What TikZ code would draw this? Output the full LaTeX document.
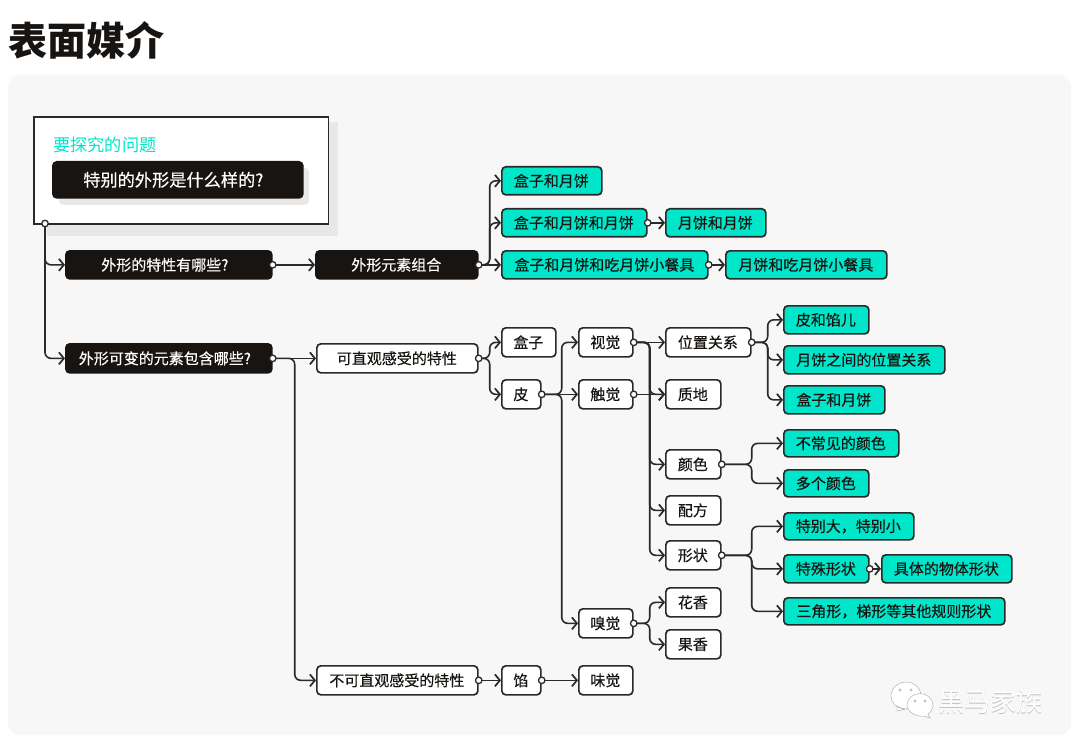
\documentclass[tikz,border=0pt]{standalone}
\usepackage{fontspec}
\setmainfont{Noto Sans CJK SC}
\newfontfamily\cjkm[FakeBold=0.4]{Noto Sans CJK SC}
\usetikzlibrary{arrows.meta}
\definecolor{ink}{HTML}{171411}
\definecolor{linec}{HTML}{2A2A2A}
\definecolor{teal}{HTML}{00E6CB}
\definecolor{panel}{HTML}{F7F7F7}
\definecolor{softshadow}{HTML}{E8E8E8}
\tikzset{
  basebox/.style={anchor=north west,inner sep=0pt,rounded corners=4pt,line width=1.7pt,draw=linec,
    font=\fontsize{15}{18}\selectfont\cjkm,align=center},
  darkbox/.style={basebox,fill=ink,draw=ink,text=white},
  whitebox/.style={basebox,fill=white,text=ink},
  tealbox/.style={basebox,fill=teal,text=ink},
  conn/.style={draw=linec,line width=1.6pt,rounded corners=6pt,-{Straight Barb[length=5pt,width=12pt,line width=1.7pt]}},
  joint/.style={circle,draw=linec,fill=white,line width=1.3pt,inner sep=0pt,minimum size=6.5pt},
}
% name, x0, y0, x1, y1, style, text
\newcommand\bx[7]{\node[#6,minimum width=(#4-#2-1)*1pt,minimum height=(#5-#3-1)*1pt] (#1) at (#2,#3) {\raisebox{0.5pt}{\hspace*{-1pt}#7}};}
\newcommand\dt[1]{\node[joint] at (#1) {};}
\newcommand\qshift[1]{\hspace*{-7pt}#1}
\begin{document}
\begin{tikzpicture}[x=1pt,y=-1pt]
\useasboundingbox (0,0) rectangle (1080,749);
\fill[white] (0,0) rectangle (1080,749);
\fill[panel,rounded corners=12pt] (8,75) rectangle (1071,735);
\node[anchor=west,inner sep=0pt,text=ink,font=\fontsize{39}{44}\selectfont\bfseries] (title) at (8,40) {表面媒介};

% question card
\fill[softshadow] (47,122) rectangle (338,236);
\node[anchor=north west,inner sep=0pt,fill=white,draw=linec,line width=1.7pt,minimum width=294.5pt,minimum height=107pt] (Q) at (33,116) {};
\node[anchor=west,inner sep=0pt,text=teal,font=\fontsize{17.2}{20}\selectfont] (qlabel) at (53,145) {要探究的问题};
\fill[softshadow,rounded corners=4pt] (59,168) rectangle (309,205);
\bx{q2}{52}{161}{303}{198}{darkbox,font=\fontsize{17.2}{20}\selectfont\cjkm}{\hspace*{-8pt}特别的外形是什么样的?}

% boxes
\bx{a1}{65}{250}{272}{279}{darkbox}{\qshift{外形的特性有哪些?}}
\bx{a2}{315}{250}{478}{279}{darkbox}{外形元素组合}
\bx{t1}{501}{166}{602}{195}{tealbox}{盒子和月饼}
\bx{t2}{501}{208}{647}{237}{tealbox}{盒子和月饼和月饼}
\bx{t2b}{665}{208}{766}{237}{tealbox}{月饼和月饼}
\bx{t3}{501}{250}{708}{279}{tealbox}{盒子和月饼和吃月饼小餐具}
\bx{t3b}{725}{250}{887}{279}{tealbox}{月饼和吃月饼小餐具}
\bx{b1}{65}{343}{272}{373}{darkbox}{\qshift{外形可变的元素包含哪些?}}
\bx{b2}{316}{343}{478}{373}{whitebox}{可直观感受的特性}
\bx{box}{501}{327}{556}{357}{whitebox}{盒子}
\bx{pi}{501}{379}{541}{409}{whitebox}{皮}
\bx{vis}{578}{327}{633}{357}{whitebox}{视觉}
\bx{tou}{578}{379}{633}{409}{whitebox}{触觉}
\bx{pos}{665}{327}{751}{357}{whitebox}{位置关系}
\bx{tex}{665}{379}{721}{409}{whitebox}{质地}
\bx{p1}{783}{305}{869}{334}{tealbox}{皮和馅儿}
\bx{p2}{783}{345}{945}{374}{tealbox}{月饼之间的位置关系}
\bx{p3}{783}{385}{885}{414}{tealbox}{盒子和月饼}
\bx{col}{665}{449}{721}{479}{whitebox}{颜色}
\bx{c1}{783}{429}{899}{457}{tealbox}{不常见的颜色}
\bx{c2}{783}{469}{869}{497}{tealbox}{多个颜色}
\bx{rec}{665}{495}{721}{525}{whitebox}{配方}
\bx{sha}{665}{540}{721}{570}{whitebox}{形状}
\bx{s1}{783}{512}{914}{540}{tealbox}{特别大，特别小}
\bx{s2}{783}{554}{869}{583}{tealbox}{特殊形状}
\bx{s2b}{881}{554}{1012}{583}{tealbox}{具体的物体形状}
\bx{s3}{783}{597}{1005}{625}{tealbox}{三角形，梯形等其他规则形状}
\bx{sme}{578}{608}{633}{638}{whitebox}{嗅觉}
\bx{f1}{665}{587}{721}{617}{whitebox}{花香}
\bx{f2}{665}{629}{721}{659}{whitebox}{果香}
\bx{b3}{316}{665}{478}{695}{whitebox}{不可直观感受的特性}
\bx{xian}{501}{665}{541}{695}{whitebox}{馅}
\bx{tas}{578}{665}{633}{695}{whitebox}{味觉}

% connectors
\coordinate (qo) at (45,223.5);
\draw[conn] (qo) |- (a1.west);
\draw[conn] (qo) |- (b1.west);
\draw[conn] (a1.east) -- (a2.west);
\draw[conn] (a2.east) -- ++(11,0) |- (t1.west);
\draw[conn] (a2.east) -- ++(11,0) |- (t2.west);
\draw[conn] (a2.east) -- (t3.west);
\draw[conn] (t2.east) -- (t2b.west);
\draw[conn] (t3.east) -- (t3b.west);
\draw[conn] (b1.east) -- (b2.west);
\draw[conn] (b1.east) -- ++(22,0) |- (b3.west);
\draw[conn] (b2.east) -- ++(11,0) |- (box.west);
\draw[conn] (b2.east) -- ++(11,0) |- (pi.west);
\draw[conn] (pi.east) -- ++(20,0) |- (vis.west);
\draw[conn] (pi.east) -- (tou.west);
\draw[conn] (pi.east) -- ++(20,0) |- (sme.west);
\draw[conn] (vis.east) -- (pos.west);
\draw[conn] (vis.east) -- ++(16,0) |- (tex.west);
\draw[conn] (vis.east) -- ++(16,0) |- (col.west);
\draw[conn] (vis.east) -- ++(16,0) |- (rec.west);
\draw[conn] (vis.east) -- ++(16,0) |- (sha.west);
\draw[conn] (tou.east) -- (tex.west);
\draw[conn] (pos.east) -- ++(16,0) |- (p1.west);
\draw[conn] (pos.east) -- ++(16,0) |- (p2.west);
\draw[conn] (pos.east) -- ++(16,0) |- (p3.west);
\draw[conn] (col.east) -- ++(30,0) |- (c1.west);
\draw[conn] (col.east) -- ++(30,0) |- (c2.west);
\draw[conn] (sha.east) -- ++(30,0) |- (s1.west);
\draw[conn] (sha.east) -- ++(30,0) |- (s2.west);
\draw[conn] (sha.east) -- ++(30,0) |- (s3.west);
\draw[conn] (s2.east) -- (s2b.west);
\draw[conn] (sme.east) -- ++(16,0) |- (f1.west);
\draw[conn] (sme.east) -- ++(16,0) |- (f2.west);
\draw[conn] (b3.east) -- (xian.west);
\draw[conn] (xian.east) -- (tas.west);

% joints
\dt{qo}
\foreach \n in {a1,a2,t2,t3,b1,b2,pi,vis,tou,pos,col,sha,s2,sme,b3,xian}{\dt{\n.east}}

% watermark
\begin{scope}[draw=black!30,fill=white,line width=0.5pt]
\filldraw (897,706) -- (901,708) -- (906,709) .. controls (897,709) and (891,703) .. (891,696) .. controls (891,688) and (898,682) .. (906,682) .. controls (914,682) and (921,688) .. (921,696) .. controls (921,703) and (914,709) .. (906,709) -- (897,711) -- cycle;
\filldraw (920,693.5) .. controls (927,693.5) and (933,698.5) .. (933,705) .. controls (933,709) and (931,712) .. (928,714) -- (930,718) -- (924,716) .. controls (916,717) and (907,712) .. (907,705) .. controls (907,698.5) and (913,693.5) .. (920,693.5) -- cycle;
\draw (900,690) circle (1.3pt) (911,690) circle (1.3pt) (915,701) circle (1.3pt) (925,701) circle (1.3pt);
\end{scope}
\node[anchor=west,inner sep=0pt,text=black!25,font=\fontsize{26}{30}\selectfont] (wm0) at (938.5,702.5) {黑马家族};
\node[anchor=west,inner sep=0pt,text=white,font=\fontsize{26}{30}\selectfont] (wm) at (938,702) {黑马家族};
\end{tikzpicture}
\end{document}
